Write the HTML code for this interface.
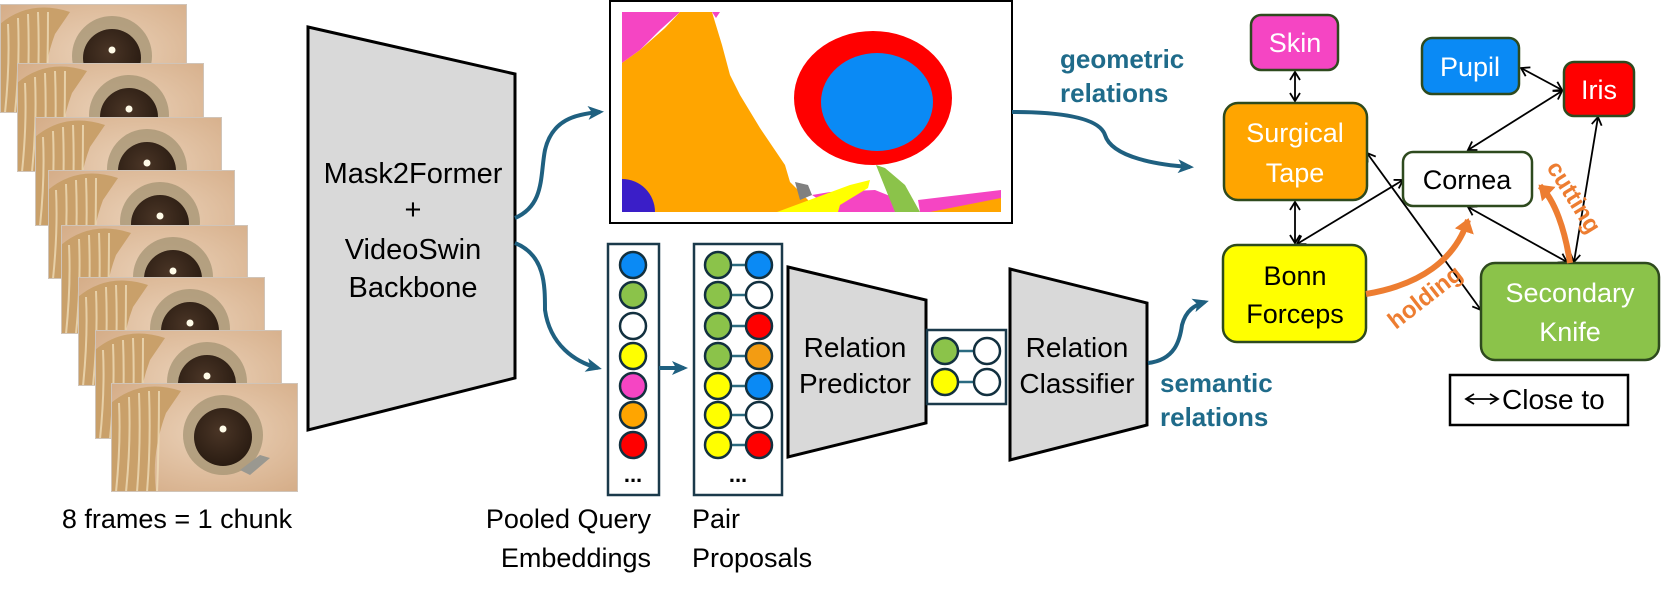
<!DOCTYPE html>
<html><head><meta charset="utf-8"><style>
html,body{margin:0;padding:0;background:#fff;}
svg{display:block;font-family:"Liberation Sans",sans-serif;}
</style></head><body>
<svg width="1661" height="596" viewBox="0 0 1661 596" xmlns="http://www.w3.org/2000/svg">
<defs>
<radialGradient id="scl" cx="0.55" cy="0.45" r="0.7"><stop offset="0" stop-color="#ebd2b9"/><stop offset="1" stop-color="#d5ad88"/></radialGradient>
<radialGradient id="pup" cx="0.45" cy="0.4" r="0.6"><stop offset="0" stop-color="#4a3526"/><stop offset="1" stop-color="#2a1c12"/></radialGradient>
<clipPath id="fc"><rect x="0" y="0" width="187" height="109"/></clipPath>
<g id="frame">
<g clip-path="url(#fc)">
<rect width="187" height="109" fill="url(#scl)"/>
<path d="M0 20 Q30 -5 70 8 L55 30 Q40 70 45 109 L0 109 Z" fill="#c9a06a"/>
<g stroke="#efdcb8" stroke-width="2" fill="none" opacity="0.8">
<path d="M8 20 Q10 60 5 109"/><path d="M18 14 Q20 60 15 109"/><path d="M28 10 Q30 60 26 109"/><path d="M38 8 Q40 60 36 109"/><path d="M48 8 Q48 60 46 109"/></g>
<circle cx="112" cy="52" r="40" fill="#a0906f" opacity="0.7"/>
<circle cx="112" cy="54" r="29" fill="url(#pup)"/>
<circle cx="112" cy="46" r="3.5" fill="#fffbe8"/>
</g>
<rect x="0.5" y="0.5" width="186" height="108" fill="none" stroke="#d0c4b8" stroke-width="1"/>
</g>
<marker id="ab" markerWidth="18" markerHeight="16" refX="12" refY="8" orient="auto" markerUnits="userSpaceOnUse"><path d="M0 1 L16 8 L0 15 L4 8 Z" fill="#1f6080"/></marker>
<marker id="ak" markerWidth="12" markerHeight="12" refX="10" refY="6" orient="auto-start-reverse" markerUnits="userSpaceOnUse"><path d="M2 1 L10 6 L2 11" fill="none" stroke="#000" stroke-width="1.8"/></marker>
<marker id="ao" markerWidth="22" markerHeight="22" refX="12" refY="11" orient="auto" markerUnits="userSpaceOnUse"><path d="M0 1 L14 11 L0 21 Z" fill="#ed7d31"/></marker>
</defs>

<use href="#frame" x="0" y="4"/>
<use href="#frame" x="17" y="63"/>
<use href="#frame" x="35" y="117"/>
<use href="#frame" x="48" y="170"/>
<use href="#frame" x="61" y="225"/>
<use href="#frame" x="78" y="277"/>
<use href="#frame" x="95" y="330"/>
<use href="#frame" x="111" y="383"/>
<path d="M240 470 L260 455 L270 458 L250 475 Z" fill="#9a9890"/>
<text x="177" y="528" font-size="27" text-anchor="middle">8 frames = 1 chunk</text>

<polygon points="308,27 515,74 515,378 308,430" fill="#d9d9d9" stroke="#000" stroke-width="3"/>
<g font-size="29" text-anchor="middle">
<text x="413" y="183">Mask2Former</text>
<text x="413" y="219">+</text>
<text x="413" y="259">VideoSwin</text>
<text x="413" y="297">Backbone</text>
</g>

<path d="M515 218 C545 205,540 175,545 150 C552 120,575 114,600 112" fill="none" stroke="#1f6080" stroke-width="4" marker-end="url(#ab)"/>
<path d="M515 243 C545 255,545 285,545 310 C550 345,575 362,598 368" fill="none" stroke="#1f6080" stroke-width="4" marker-end="url(#ab)"/>

<rect x="610" y="1" width="402" height="222" fill="#fff" stroke="#000" stroke-width="2"/>
<g>
<polygon points="622,12 680,12 660,30 640,50 622,63" fill="#f545c3"/>
<polygon points="712,12 720,12 716,18" fill="#f545c3"/>
<polygon points="622,63 640,50 665,28 680,12 712,12 715,22 722,45 730,75 740,95 760,128 785,165 790,182 798,190 808,200 815,212 622,212" fill="#ffa500"/>
<polygon points="795,182 808,185 812,195 800,200" fill="#808080"/>
<path d="M622 179 A33 33 0 0 1 655 212 L622 212 Z" fill="#3a1ec8"/>
<ellipse cx="873" cy="98" rx="79" ry="67" fill="#ff0000"/>
<ellipse cx="877" cy="102" rx="56" ry="49" fill="#0a8af5"/>
<polygon points="812,195 830,192 875,190 900,200 905,212 838,212" fill="#f545c3"/>
<polygon points="777,212 850,185 870,180 868,188 840,205 838,212" fill="#ffff00"/>
<polygon points="876,165 885,168 905,185 920,212 895,212 888,195" fill="#8bc34a"/>
<polygon points="918,200 1001,190 1001,212 920,212" fill="#f545c3"/>
<polygon points="930,212 1001,198 1001,212" fill="#ffa500"/>
</g>

<g font-size="26" font-weight="bold" fill="#1f6b8a">
<text x="1060" y="68">geometric</text>
<text x="1060" y="102">relations</text>
<text x="1160" y="392">semantic</text>
<text x="1160" y="426">relations</text>
</g>
<path d="M1012 112 C1070 112,1100 120,1105 135 C1112 158,1160 165,1190 167" fill="none" stroke="#1f6080" stroke-width="4" marker-end="url(#ab)"/>

<rect x="608" y="244" width="51" height="251" fill="#fff" stroke="#1b3a4b" stroke-width="2.5"/>
<g stroke="#12303f" stroke-width="2.5">
<circle cx="633" cy="265" r="13" fill="#0a8af5"/>
<circle cx="633" cy="295" r="13" fill="#8bc34a"/>
<circle cx="633" cy="326" r="13" fill="#fff"/>
<circle cx="633" cy="356" r="13" fill="#ffff00"/>
<circle cx="633" cy="386" r="13" fill="#f545c3"/>
<circle cx="633" cy="415" r="13" fill="#ffa500"/>
<circle cx="633" cy="445" r="13" fill="#ff0000"/>
</g>
<text x="633" y="482" font-size="22" font-weight="bold" text-anchor="middle">...</text>
<path d="M659 368 L684 368" stroke="#1f6080" stroke-width="4" marker-end="url(#ab)"/>

<rect x="694" y="244" width="88" height="251" fill="#fff" stroke="#1b3a4b" stroke-width="2.5"/>
<g stroke="#2a6a80" stroke-width="2.5">
<line x1="718" y1="265" x2="759" y2="265"/><line x1="718" y1="295" x2="759" y2="295"/><line x1="718" y1="326" x2="759" y2="326"/><line x1="718" y1="356" x2="759" y2="356"/><line x1="718" y1="386" x2="759" y2="386"/><line x1="718" y1="415" x2="759" y2="415"/><line x1="718" y1="445" x2="759" y2="445"/>
</g>
<g stroke="#12303f" stroke-width="2.5">
<circle cx="718" cy="265" r="13" fill="#8bc34a"/><circle cx="759" cy="265" r="13" fill="#0a8af5"/>
<circle cx="718" cy="295" r="13" fill="#8bc34a"/><circle cx="759" cy="295" r="13" fill="#fff"/>
<circle cx="718" cy="326" r="13" fill="#8bc34a"/><circle cx="759" cy="326" r="13" fill="#ff0000"/>
<circle cx="718" cy="356" r="13" fill="#8bc34a"/><circle cx="759" cy="356" r="13" fill="#f39c12"/>
<circle cx="718" cy="386" r="13" fill="#ffff00"/><circle cx="759" cy="386" r="13" fill="#0a8af5"/>
<circle cx="718" cy="415" r="13" fill="#ffff00"/><circle cx="759" cy="415" r="13" fill="#fff"/>
<circle cx="718" cy="445" r="13" fill="#ffff00"/><circle cx="759" cy="445" r="13" fill="#ff0000"/>
</g>
<text x="738" y="482" font-size="22" font-weight="bold" text-anchor="middle">...</text>

<g font-size="27">
<text x="651" y="528" text-anchor="end">Pooled Query</text>
<text x="651" y="567" text-anchor="end">Embeddings</text>
<text x="692" y="528">Pair</text>
<text x="692" y="567">Proposals</text>
</g>

<polygon points="788,267 926,300 926,423 788,457" fill="#d9d9d9" stroke="#000" stroke-width="3"/>
<g font-size="28" text-anchor="middle">
<text x="855" y="357">Relation</text>
<text x="855" y="393">Predictor</text>
</g>
<rect x="927" y="330" width="79" height="74" fill="#fff" stroke="#1b3a4b" stroke-width="2.5"/>
<g stroke="#2a6a80" stroke-width="2.5"><line x1="945" y1="351" x2="987" y2="351"/><line x1="945" y1="382" x2="987" y2="382"/></g>
<g stroke="#12303f" stroke-width="2.5">
<circle cx="945" cy="351" r="13" fill="#8bc34a"/><circle cx="987" cy="351" r="13" fill="#fff"/>
<circle cx="945" cy="382" r="13" fill="#ffff00"/><circle cx="987" cy="382" r="13" fill="#fff"/>
</g>

<polygon points="1010,269 1147,303 1147,425 1010,460" fill="#d9d9d9" stroke="#000" stroke-width="3"/>
<g font-size="28" text-anchor="middle">
<text x="1077" y="357">Relation</text>
<text x="1077" y="393">Classifier</text>
</g>
<path d="M1148 363 C1175 360,1180 340,1182 325 C1186 310,1195 305,1205 302" fill="none" stroke="#1f6080" stroke-width="4" marker-end="url(#ab)"/>

<g stroke="#000" stroke-width="1.8" fill="none" marker-start="url(#ak)" marker-end="url(#ak)">
<line x1="1295" y1="72" x2="1295" y2="101"/>
<line x1="1295" y1="202" x2="1295" y2="243"/>
<line x1="1521" y1="68" x2="1562" y2="90"/>
<line x1="1562" y1="91" x2="1468" y2="150"/>
<line x1="1403" y1="180" x2="1297" y2="244"/>
<line x1="1367" y1="153" x2="1481" y2="310"/>
<line x1="1468" y1="207" x2="1567" y2="262"/>
<line x1="1598" y1="117" x2="1574" y2="262"/>
</g>

<g stroke="#2e4a1e" stroke-width="2.5">
<rect x="1251" y="15" width="87" height="55" rx="10" fill="#f545c3"/>
<rect x="1224" y="103" width="143" height="97" rx="14" fill="#ffa500"/>
<rect x="1223" y="245" width="143" height="97" rx="14" fill="#ffff00"/>
<rect x="1422" y="38" width="97" height="56" rx="10" fill="#0a8af5"/>
<rect x="1564" y="62" width="70" height="54" rx="10" fill="#ff0000"/>
<rect x="1403" y="152" width="129" height="54" rx="10" fill="#fff"/>
<rect x="1481" y="263" width="178" height="97" rx="14" fill="#8bc34a"/>
</g>
<g font-size="27" text-anchor="middle">
<text x="1295" y="52" fill="#fff">Skin</text>
<text x="1295" y="142" fill="#fff">Surgical</text>
<text x="1295" y="182" fill="#fff">Tape</text>
<text x="1295" y="285">Bonn</text>
<text x="1295" y="323">Forceps</text>
<text x="1470" y="76" fill="#fff">Pupil</text>
<text x="1599" y="99" fill="#fff">Iris</text>
<text x="1467" y="189">Cornea</text>
<text x="1570" y="302" fill="#fff">Secondary</text>
<text x="1570" y="341" fill="#fff">Knife</text>
</g>

<path d="M1366 294 C1420 285,1455 260,1468 220" fill="none" stroke="#ed7d31" stroke-width="6" marker-end="url(#ao)"/>
<path d="M1570 263 C1565 230,1555 200,1540 186" fill="none" stroke="#ed7d31" stroke-width="6" marker-end="url(#ao)"/>
<text x="1425" y="305" font-size="24" font-weight="bold" fill="#ed7d31" text-anchor="middle" transform="rotate(-38 1425 297)">holding</text>
<text x="1574" y="205" font-size="24" font-weight="bold" fill="#ed7d31" text-anchor="middle" transform="rotate(58 1574 197)">cutting</text>

<rect x="1450" y="375" width="178" height="50" fill="#fff" stroke="#000" stroke-width="2.5"/>
<line x1="1466" y1="399" x2="1498" y2="399" stroke="#000" stroke-width="1.8" marker-start="url(#ak)" marker-end="url(#ak)"/>
<text x="1502" y="409" font-size="28">Close to</text>
</svg>
</body></html>
